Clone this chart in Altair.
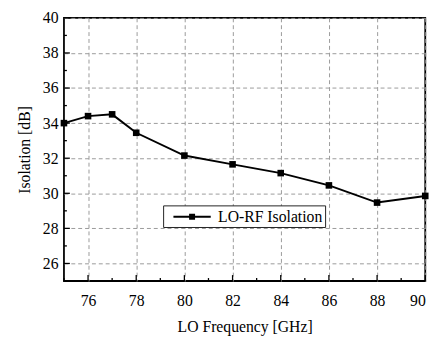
import altair as alt
import pandas as pd

freq = [75, 76, 77, 78, 80, 82, 84, 86, 88, 90]
isolation = [34.0, 34.4, 34.5, 33.45, 32.15, 31.65, 31.15, 30.45, 29.47, 29.85]
series = ["LO-RF Isolation"] * len(freq)

x_major = [76, 78, 80, 82, 84, 86, 88, 90]
x_minor = [75, 77, 79, 81, 83, 85, 87, 89]
y_major = [26, 28, 30, 32, 34, 36, 38, 40]
y_minor = [25, 27, 29, 31, 33, 35, 37, 39]

X0, X1 = 75, 90
Y0, Y1 = 25, 40
W, H = 368, 268

df = pd.DataFrame({"freq": freq, "iso": isolation, "series": series})

FONT = "Liberation Serif"
xs = alt.Scale(domain=[X0, X1], nice=False, zero=False)
ys = alt.Scale(domain=[Y0, Y1], nice=False, zero=False)

X_TITLE = "LO Frequency [GHz]"
Y_TITLE = "Isolation [dB]"

x_axis = alt.Axis(orient="bottom", values=x_major, ticks=False, domain=False,
                  grid=True, gridDash=[4, 3], gridColor="#9a9a9a", gridWidth=1,
                  labelFont=FONT, labelFontSize=16, labelColor="black",
                  labelPadding=12, titleFont=FONT, titleFontSize=16,
                  titleFontWeight="normal", titleColor="black", titlePadding=10)
y_axis = alt.Axis(orient="left", values=y_major, ticks=False, domain=False,
                  grid=True, gridDash=[4, 3], gridColor="#9a9a9a", gridWidth=1,
                  labelFont=FONT, labelFontSize=16, labelColor="black",
                  labelPadding=6, titleFont=FONT, titleFontSize=16,
                  titleFontWeight="normal", titleColor="black", titlePadding=10)

legend_path = "M-2,-0.11H2V0.11H-2Z M-0.32,-0.32H0.32V0.32H-0.32Z"

base = alt.Chart(df)

line = base.mark_line(color="black", strokeWidth=2).encode(
    x=alt.X("freq:Q", scale=xs, title=X_TITLE, axis=x_axis),
    y=alt.Y("iso:Q", scale=ys, title=Y_TITLE, axis=y_axis),
)

points = base.mark_square(size=45, opacity=1).encode(
    x=alt.X("freq:Q", scale=xs, axis=None),
    y=alt.Y("iso:Q", scale=ys, axis=None),
    color=alt.Color("series:N", scale=alt.Scale(range=["black"]),
                    legend=alt.Legend(title=None, orient="none", legendX=101, legendY=191,
                                      symbolType=legend_path, symbolSize=361,
                                      symbolFillColor="black", symbolStrokeWidth=0,
                                      symbolOffset=18, labelOffset=17,
                                      labelExpr="datum.label + '    '",
                                      labelFont=FONT, labelFontSize=16, labelColor="black",
                                      padding=2, strokeColor="#222", fillColor="white",
                                      zindex=3)),
)


def xticks(values, px):
    d = pd.DataFrame({"v": values, "a": Y0, "b": Y0 + px * (Y1 - Y0) / H})
    return alt.Chart(d).mark_rule(color="black", strokeWidth=1.3).encode(
        x=alt.X("v:Q", scale=xs, axis=None),
        y=alt.Y("a:Q", scale=ys, axis=None), y2="b:Q")


def yticks(values, px):
    d = pd.DataFrame({"v": values, "a": X0, "b": X0 + px * (X1 - X0) / W})
    return alt.Chart(d).mark_rule(color="black", strokeWidth=1.3).encode(
        y=alt.Y("v:Q", scale=ys, axis=None),
        x=alt.X("a:Q", scale=xs, axis=None), x2="b:Q")


chart = alt.layer(
    line, points,
    xticks(x_major, 6), xticks(x_minor, 3),
    yticks(y_major, 6), yticks(y_minor, 3),
).resolve_axis(
    x="independent", y="independent"
).properties(
    width=W, height=H,
    autosize=alt.AutoSizeParams(type="none"),
    padding={"left": 57, "top": 7, "right": 14, "bottom": 55},
    background="white",
).configure_view(stroke="black", strokeWidth=1.8)

chart.save("out.html", embed_options={"renderer": "svg", "actions": False})
